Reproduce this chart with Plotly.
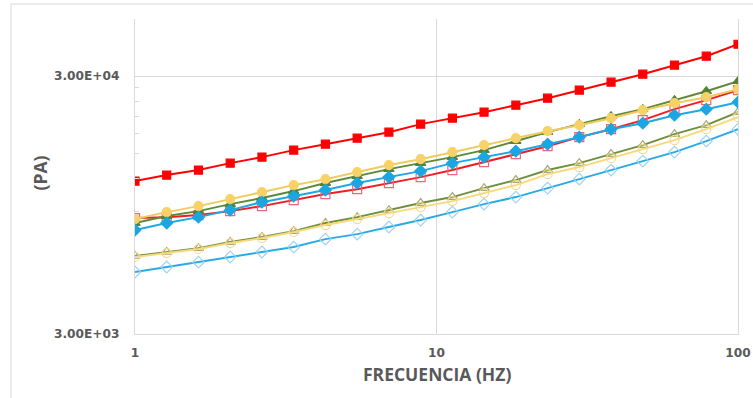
import plotly.graph_objects as go

# Frequency (Hz)
freq = [1.0, 1.274, 1.624, 2.069, 2.637, 3.360, 4.281, 5.456, 6.952, 8.859,
        11.29, 14.38, 18.33, 23.36, 29.76, 37.93, 48.33, 61.58, 78.48, 100.0]

# Modulus (Pa)
red_filled = [11750, 12400, 12970, 13800, 14560, 15500, 16350, 17250, 18200, 19550,
              20620, 21760, 23160, 24650, 26480, 28440, 30540, 33100, 35860, 39900]
red_open = [8450, 8520, 8680, 8990, 9400, 9920, 10470, 10940, 11550, 12180,
            12970, 13930, 14960, 16060, 17410, 18690, 20260, 22350, 24220, 26480]
green_filled = [8080, 8600, 8990, 9570, 10100, 10750, 11550, 12290, 13080, 13800,
                14560, 15500, 16800, 18200, 19550, 20990, 22350, 24220, 26240, 28690]
green_open = [6020, 6240, 6460, 6820, 7130, 7520, 8080, 8520, 9070, 9660,
              10190, 11040, 11860, 12970, 13800, 14960, 16210, 17880, 19370, 21760]
yellow_filled = [8370, 8910, 9400, 10010, 10650, 11340, 11960, 12740, 13560, 14300,
                 15230, 16210, 17250, 18360, 19370, 20620, 22150, 23580, 24870, 26710]
yellow_open = [5970, 6180, 6410, 6760, 7070, 7460, 7940, 8370, 8830, 9320,
               9830, 10560, 11340, 12510, 13320, 14430, 15640, 16950, 18690, 20810]
blue_filled = [7590, 8080, 8520, 9070, 9740, 10280, 10850, 11550, 12180, 12850,
               13800, 14560, 15360, 16350, 17410, 18690, 19720, 21180, 22350, 23790]
blue_open = [5220, 5460, 5700, 5970, 6240, 6520, 7000, 7320, 7800, 8300,
             8910, 9570, 10190, 11040, 11960, 12970, 14050, 15230, 16800, 18690]

x_tickvals = [1, 10, 100]
x_ticktext = ["1", "10", "100"]
y_tickvals = [3000, 30000]
y_ticktext = ["3.00E+03", "3.00E+04"]
y_minor = [6000, 9000, 12000, 15000, 18000, 21000, 24000, 27000]

series = [
    (red_filled, "square", "#FF0000", "#FF0000", 8),
    (red_open, "square-open", "#E6677A", "#F01E23", 9),
    (green_filled, "triangle-up", "#548235", "#5E8A38", 9),
    (green_open, "triangle-up-open", "#A4A874", "#6E8F3C", 9),
    (yellow_filled, "circle", "#F9D267", "#EFCB60", 9),
    (yellow_open, "circle-open", "#F4D98C", "#F8D878", 9),
    (blue_filled, "diamond", "#1AA6E2", "#1FA8E4", 9),
    (blue_open, "diamond-open", "#9CD4F0", "#27AAE6", 9),
]

fig = go.Figure()
for ys, sym, mcol, lcol, sz in series:
    fig.add_trace(go.Scatter(
        x=freq, y=ys, mode="lines+markers",
        line=dict(color=lcol, width=2),
        marker=dict(symbol=sym, size=sz, color=mcol,
                    line=dict(color=mcol, width=1.2)),
        showlegend=False,
    ))

tick_font = dict(family="DejaVu Sans", size=12.2, color="#595959", weight="bold")
title_font = dict(family="Open Sans", size=17.5, color="#595959", weight="bold")
grid = "#D9D9D9"

fig.update_layout(
    width=753, height=398,
    margin=dict(l=135, r=15, t=19, b=64),
    paper_bgcolor="white", plot_bgcolor="white",
    xaxis=dict(type="log", range=[0, 2], tickvals=x_tickvals, ticktext=x_ticktext,
               showgrid=True, gridcolor=grid, gridwidth=1, automargin=False,
               showline=True, linecolor=grid, linewidth=1,
               ticks="", tickfont=tick_font, ticklabelstandoff=7, zeroline=False),
    yaxis=dict(type="log", range=[3.47712, 4.69897], tickvals=y_tickvals, ticktext=y_ticktext,
               showgrid=True, gridcolor=grid, gridwidth=1, automargin=False,
               showline=True, linecolor=grid, linewidth=1, mirror=True,
               ticks="", tickfont=tick_font, ticklabelstandoff=12, zeroline=False,
               minor=dict(tickvals=y_minor, ticks="inside", ticklen=4,
                          tickcolor=grid, showgrid=False)),
    shapes=[dict(type="rect", xref="paper", yref="paper",
                 x0=-0.2056, x1=1.04, y0=-0.25, y1=1.0476,
                 line=dict(color="#D9D9D9", width=1), fillcolor="rgba(0,0,0,0)",
                 layer="below")],
    annotations=[
        dict(text="FRECUENCIA (HZ)", xref="paper", yref="paper", x=0.5, y=-0.127,
             xanchor="center", yanchor="middle", showarrow=False, font=title_font),
        dict(text="(PA)", xref="paper", yref="paper", x=-0.1575, y=0.51,
             xanchor="center", yanchor="middle", showarrow=False, textangle=-90,
             font=title_font),
    ],
)

fig.write_html("out.html", config={"displayModeBar": False},
               post_script="document.body.style.margin='0px';document.body.style.overflow='hidden';")
